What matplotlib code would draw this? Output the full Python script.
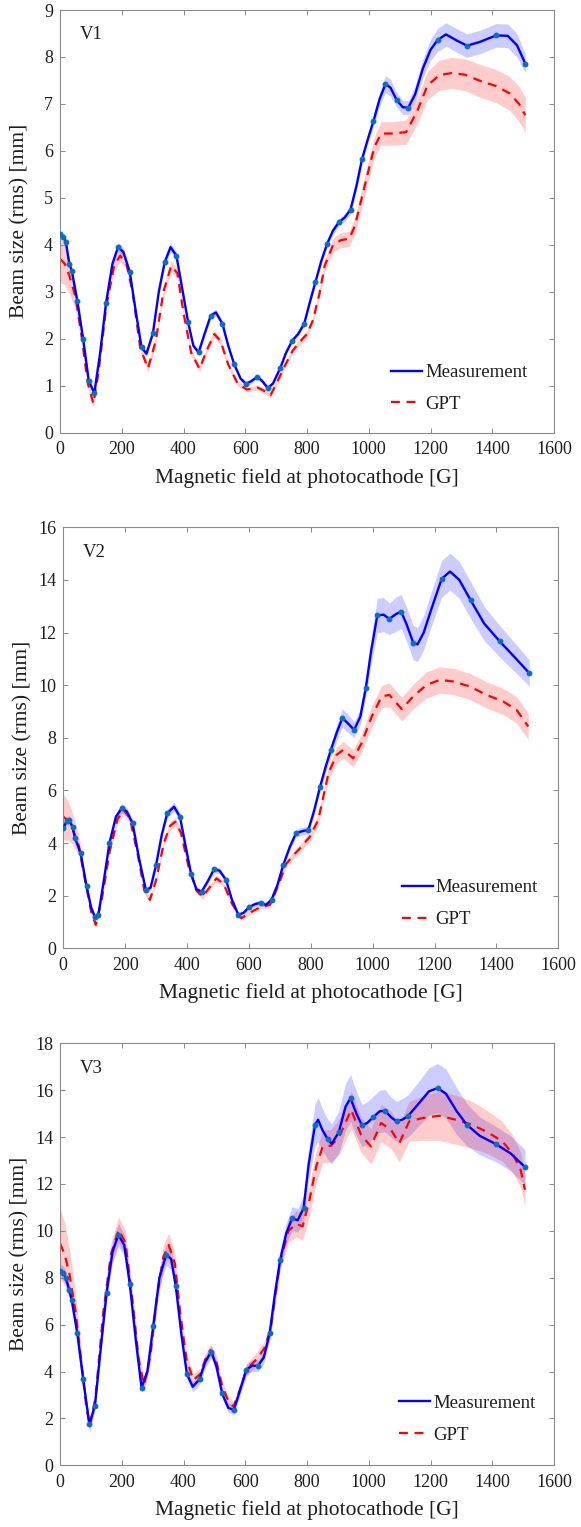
import numpy as np
import matplotlib
matplotlib.use("Agg")
import matplotlib.pyplot as plt

plt.rcParams['font.family'] = ['Liberation Serif', 'DejaVu Serif']
plt.rcParams['mathtext.fontset'] = 'stix'

# ---------------- data ----------------
# V1 measurement markers
v1_mx = [0, 11, 19, 30, 38, 56, 75, 93, 111, 149, 188, 226, 264, 301, 339, 377, 415, 449, 488, 526,
         564, 603, 639, 673, 713, 752, 791, 827, 865, 903, 941, 978, 1015, 1054, 1090, 1128, 1223, 1318, 1413, 1507]
v1_my = [4.24, 4.17, 4.06, 3.60, 3.45, 2.81, 2.00, 1.11, 0.84, 2.76, 3.95, 3.42, 1.82, 2.12, 3.63, 3.77, 2.35, 1.71, 2.49, 2.32,
         1.46, 1.04, 1.19, 0.95, 1.37, 1.96, 2.32, 3.20, 4.02, 4.48, 4.75, 5.82, 6.63, 7.42, 7.09, 6.92, 8.36, 8.24, 8.46, 7.86]
# V1 measurement curve (line) and band half-width
v1_lx = [0, 11, 19, 30, 38, 56, 75, 93, 111, 130, 149, 170, 188, 205, 226, 245, 264, 280, 301, 320, 339, 358, 377, 395,
         415, 432, 449, 468, 488, 505, 526, 545, 564, 585, 603, 620, 639, 655, 673, 690, 713, 732, 752, 771, 791, 808,
         827, 846, 865, 884, 903, 922, 941, 960, 978, 997, 1015, 1035, 1054, 1070, 1090, 1110, 1128, 1150, 1175, 1200,
         1223, 1250, 1285, 1318, 1360, 1413, 1450, 1480, 1507]
v1_ly = [4.24, 4.17, 4.06, 3.60, 3.45, 2.81, 2.00, 1.11, 0.84, 1.70, 2.76, 3.60, 3.95, 3.85, 3.42, 2.60, 1.82, 1.68, 2.12, 3.00, 3.63, 3.95, 3.77, 3.10,
         2.35, 1.85, 1.71, 2.10, 2.49, 2.56, 2.32, 1.85, 1.46, 1.15, 1.04, 1.10, 1.19, 1.10, 0.95, 1.05, 1.37, 1.70, 1.96, 2.10, 2.32, 2.75,
         3.20, 3.65, 4.02, 4.30, 4.48, 4.58, 4.75, 5.25, 5.82, 6.25, 6.63, 7.10, 7.42, 7.35, 7.09, 6.93, 6.92, 7.20, 7.75, 8.15,
         8.36, 8.48, 8.35, 8.24, 8.32, 8.46, 8.45, 8.25, 7.86]
v1_le = [0.08, 0.08, 0.08, 0.08, 0.08, 0.07, 0.06, 0.06, 0.06, 0.06, 0.07, 0.08, 0.10, 0.10, 0.08, 0.07, 0.06, 0.06, 0.06, 0.07, 0.08, 0.10, 0.08, 0.07,
         0.06, 0.06, 0.06, 0.06, 0.07, 0.07, 0.06, 0.06, 0.05, 0.05, 0.05, 0.05, 0.05, 0.05, 0.05, 0.05, 0.05, 0.05, 0.05, 0.05, 0.06, 0.06,
         0.07, 0.07, 0.08, 0.08, 0.08, 0.08, 0.09, 0.10, 0.10, 0.10, 0.12, 0.15, 0.18, 0.18, 0.16, 0.15, 0.15, 0.18, 0.20, 0.22,
         0.25, 0.25, 0.25, 0.25, 0.25, 0.25, 0.25, 0.25, 0.20]
# V1 GPT simulation and band half-width
v1_gx = [0, 15, 30, 50, 70, 90, 108, 125, 150, 175, 195, 215, 235, 260, 285, 310, 335, 360, 380, 400, 425, 452, 475, 500,
         520, 545, 575, 605, 640, 665, 682, 705, 730, 754, 776, 800, 819, 840, 857, 884, 910, 937, 955, 986, 1018, 1040,
         1078, 1121, 1158, 1190, 1228, 1270, 1313, 1357, 1412, 1455, 1487, 1507]
v1_gy = [3.70, 3.60, 3.35, 2.90, 2.05, 1.05, 0.62, 1.30, 2.70, 3.55, 3.77, 3.60, 3.00, 1.80, 1.37, 1.95, 3.00, 3.55, 3.40, 2.55, 1.70, 1.36, 1.75, 2.10,
         1.95, 1.45, 1.05, 0.92, 0.96, 0.88, 0.80, 1.10, 1.45, 1.75, 1.93, 2.10, 2.39, 2.95, 3.55, 3.99, 4.10, 4.13, 4.40, 5.23, 6.08, 6.37,
         6.37, 6.40, 6.86, 7.39, 7.61, 7.66, 7.62, 7.50, 7.38, 7.23, 7.00, 6.76]
v1_ge = [0.50, 0.45, 0.38, 0.28, 0.15, 0.10, 0.08, 0.08, 0.10, 0.12, 0.13, 0.12, 0.10, 0.08, 0.08, 0.08, 0.10, 0.12, 0.10, 0.08, 0.07, 0.07, 0.07, 0.08,
         0.07, 0.06, 0.05, 0.05, 0.05, 0.05, 0.05, 0.06, 0.06, 0.06, 0.07, 0.08, 0.08, 0.10, 0.12, 0.15, 0.16, 0.16, 0.17, 0.20, 0.22, 0.25,
         0.25, 0.26, 0.28, 0.30, 0.32, 0.33, 0.34, 0.35, 0.35, 0.36, 0.37, 0.37]

# V2 measurement markers
v2_mx = [0, 11, 19, 30, 38, 56, 75, 102, 113, 149, 189, 224, 267, 300, 336, 377, 413, 447, 487, 526, 566, 600, 638, 673,
         711, 752, 792, 830, 865, 902, 940, 978, 1015, 1054, 1092, 1131, 1223, 1317, 1411, 1506]
v2_my = [4.56, 4.85, 4.88, 4.60, 4.18, 3.61, 2.37, 1.20, 1.25, 3.99, 5.32, 4.75, 2.22, 3.17, 5.13, 5.00, 2.83, 2.15, 3.00, 2.60, 1.27, 1.56, 1.73, 1.85,
         3.17, 4.37, 4.50, 6.14, 7.54, 8.75, 8.30, 9.91, 12.65, 12.52, 12.80, 11.62, 14.04, 13.22, 11.66, 10.46]
v2_lx = [0, 11, 19, 30, 38, 56, 75, 90, 102, 113, 130, 149, 170, 189, 205, 224, 245, 267, 282, 300, 318, 336, 358, 377, 395,
         413, 430, 447, 467, 487, 505, 526, 545, 566, 583, 600, 620, 638, 655, 673, 692, 711, 732, 752, 772, 792, 810,
         830, 848, 865, 884, 902, 920, 940, 960, 978, 995, 1015, 1035, 1054, 1075, 1092, 1110, 1131, 1145, 1165, 1190,
         1223, 1250, 1280, 1317, 1360, 1411, 1460, 1506]
v2_ly = [4.56, 4.85, 4.88, 4.60, 4.18, 3.61, 2.37, 1.55, 1.20, 1.25, 2.50, 3.99, 5.00, 5.32, 5.20, 4.75, 3.40, 2.22, 2.30, 3.17, 4.30, 5.13, 5.38, 5.00, 3.90,
         2.83, 2.25, 2.15, 2.55, 3.00, 2.95, 2.60, 1.85, 1.27, 1.35, 1.56, 1.68, 1.73, 1.65, 1.85, 2.40, 3.17, 3.85, 4.37, 4.45, 4.50, 5.20,
         6.14, 6.90, 7.54, 8.20, 8.75, 8.55, 8.30, 8.80, 9.91, 11.30, 12.65, 12.68, 12.52, 12.70, 12.80, 12.30, 11.62, 11.55, 12.00, 12.90,
         14.04, 14.32, 14.00, 13.22, 12.35, 11.66, 11.05, 10.46]
v2_le = [0.15, 0.15, 0.15, 0.14, 0.13, 0.12, 0.10, 0.10, 0.10, 0.10, 0.10, 0.12, 0.15, 0.18, 0.16, 0.14, 0.12, 0.10, 0.10, 0.12, 0.14, 0.16, 0.18, 0.16, 0.14,
         0.12, 0.10, 0.10, 0.10, 0.12, 0.12, 0.10, 0.10, 0.10, 0.10, 0.10, 0.10, 0.10, 0.10, 0.10, 0.12, 0.12, 0.14, 0.15, 0.15, 0.16, 0.17,
         0.20, 0.22, 0.25, 0.30, 0.35, 0.35, 0.30, 0.30, 0.35, 0.50, 0.65, 0.65, 0.60, 0.65, 0.65, 0.65, 0.65, 0.65, 0.65, 0.65,
         0.70, 0.70, 0.70, 0.70, 0.65, 0.60, 0.55, 0.50]
v2_gx = [0, 15, 30, 50, 70, 90, 105, 125, 150, 175, 195, 215, 240, 262, 280, 300, 325, 345, 362, 380, 405, 430, 450, 472,
         495, 518, 545, 575, 610, 640, 668, 695, 720, 745, 765, 797, 824, 857, 883, 905, 937, 964, 997, 1029, 1054,
         1094, 1131, 1174, 1217, 1261, 1314, 1368, 1422, 1465, 1503]
v2_gy = [5.00, 4.85, 4.55, 3.90, 2.60, 1.40, 0.89, 1.90, 3.70, 4.90, 5.26, 4.95, 3.60, 2.20, 1.84, 2.60, 4.00, 4.65, 4.81, 4.40, 3.10, 2.20, 1.96, 2.30,
         2.66, 2.45, 1.70, 1.14, 1.40, 1.58, 1.65, 2.40, 3.20, 3.55, 3.80, 4.24, 4.88, 6.65, 7.35, 7.54, 7.22, 7.79, 8.81, 9.57, 9.63,
         9.09, 9.57, 10.01, 10.20, 10.14, 9.95, 9.63, 9.38, 9.06, 8.43]
v2_ge = [0.85, 0.75, 0.60, 0.40, 0.25, 0.15, 0.12, 0.12, 0.14, 0.16, 0.18, 0.16, 0.13, 0.12, 0.10, 0.12, 0.14, 0.16, 0.17, 0.15, 0.13, 0.10, 0.10, 0.10,
         0.11, 0.10, 0.09, 0.08, 0.08, 0.08, 0.09, 0.10, 0.12, 0.14, 0.15, 0.17, 0.20, 0.25, 0.30, 0.32, 0.33, 0.35, 0.40, 0.42, 0.45,
         0.45, 0.47, 0.50, 0.50, 0.50, 0.50, 0.50, 0.50, 0.50, 0.50]

# V3 measurement markers
v3_mx = [0, 11, 19, 30, 38, 56, 75, 95, 113, 151, 189, 226, 264, 302, 344, 375, 411, 452, 490, 525, 563, 603, 641, 679,
         713, 752, 789, 826, 867, 903, 941, 978, 1015, 1053, 1090, 1128, 1223, 1318, 1412, 1506]
v3_my = [8.29, 8.19, 7.98, 7.48, 7.06, 5.63, 3.68, 1.76, 2.53, 7.37, 9.83, 7.74, 3.31, 5.95, 8.98, 7.65, 3.90, 3.67, 4.85, 3.07, 2.36, 4.07, 4.24, 5.63,
         8.76, 10.54, 10.97, 14.52, 13.91, 14.21, 15.66, 14.50, 14.85, 15.12, 14.67, 14.91, 16.09, 14.52, 13.70, 12.72]
v3_lx = [0, 11, 19, 30, 38, 56, 75, 95, 113, 132, 151, 170, 189, 208, 226, 245, 264, 283, 302, 322, 344, 360, 375, 393,
         411, 430, 452, 470, 490, 507, 525, 545, 563, 583, 603, 622, 641, 660, 679, 697, 713, 733, 752, 770, 789, 805,
         826, 836, 850, 867, 880, 903, 925, 941, 960, 978, 995, 1015, 1035, 1053, 1072, 1090, 1110, 1128, 1160, 1195,
         1223, 1250, 1285, 1318, 1360, 1412, 1460, 1506]
v3_ly = [8.29, 8.19, 7.98, 7.48, 7.06, 5.63, 3.68, 1.76, 2.53, 5.00, 7.37, 9.10, 9.83, 9.40, 7.74, 5.40, 3.31, 4.00, 5.95, 8.00, 8.98, 8.80, 7.65, 5.60,
         3.90, 3.35, 3.67, 4.40, 4.85, 4.20, 3.07, 2.45, 2.36, 3.20, 4.07, 4.25, 4.24, 4.60, 5.63, 7.40, 8.76, 9.90, 10.54, 10.45, 10.97, 12.80,
         14.52, 14.74, 14.30, 13.91, 13.71, 14.21, 15.30, 15.66, 15.00, 14.50, 14.60, 14.85, 15.10, 15.12, 14.85, 14.67, 14.75, 14.91, 15.40, 15.95,
         16.09, 15.85, 15.10, 14.52, 14.05, 13.70, 13.30, 12.72]
v3_le = [0.30, 0.30, 0.30, 0.30, 0.30, 0.28, 0.25, 0.20, 0.22, 0.30, 0.35, 0.45, 0.50, 0.45, 0.40, 0.30, 0.20, 0.25, 0.30, 0.40, 0.45, 0.45, 0.40, 0.30,
         0.25, 0.22, 0.22, 0.25, 0.25, 0.25, 0.20, 0.20, 0.20, 0.22, 0.25, 0.25, 0.25, 0.25, 0.30, 0.35, 0.40, 0.45, 0.50, 0.50, 0.55, 0.70,
         0.90, 0.95, 0.90, 0.85, 0.85, 0.90, 1.00, 1.00, 0.95, 0.90, 0.90, 0.90, 0.90, 0.90, 0.85, 0.85, 0.90, 0.90, 0.95, 1.00,
         1.05, 1.05, 1.00, 0.90, 0.80, 0.75, 0.75, 0.75]
v3_gx = [0, 15, 30, 50, 70, 85, 97, 115, 140, 165, 190, 212, 235, 255, 272, 292, 315, 335, 352, 372, 390, 410, 432, 455,
         470, 487, 505, 525, 545, 562, 582, 605, 640, 662, 682, 713, 740, 765, 786, 808, 830, 851, 878, 905, 943, 975,
         1007, 1040, 1072, 1099, 1131, 1174, 1228, 1282, 1336, 1390, 1433, 1465, 1492, 1506]
v3_gy = [9.47, 9.00, 8.20, 6.60, 4.30, 2.50, 1.68, 2.90, 6.50, 9.00, 10.04, 9.50, 7.00, 4.50, 3.43, 4.60, 7.30, 8.90, 9.40, 8.60, 6.40, 4.50, 3.64, 3.90,
         4.50, 4.92, 4.50, 3.40, 2.75, 2.50, 3.20, 4.10, 4.57, 5.00, 5.80, 8.70, 10.00, 10.30, 10.19, 11.32, 12.75, 13.60, 13.63, 14.03, 15.16, 14.10,
         13.60, 14.60, 14.31, 13.74, 14.67, 14.81, 14.91, 14.74, 14.52, 14.17, 13.81, 13.31, 12.60, 11.75]
v3_ge = [1.50, 1.35, 1.10, 0.80, 0.50, 0.35, 0.30, 0.35, 0.45, 0.50, 0.55, 0.50, 0.45, 0.35, 0.30, 0.35, 0.45, 0.50, 0.50, 0.50, 0.40, 0.30, 0.25, 0.25,
         0.25, 0.25, 0.25, 0.20, 0.20, 0.20, 0.20, 0.25, 0.30, 0.30, 0.35, 0.40, 0.50, 0.55, 0.60, 0.65, 0.70, 0.70, 0.70, 0.75, 0.80, 0.75,
         0.75, 0.80, 0.80, 0.80, 0.85, 0.95, 1.05, 1.05, 1.00, 0.90, 0.85, 0.80, 0.75, 0.70]

panel_names = ['V1', 'V2', 'V3']
y_limits = [9, 16, 18]
y_steps = [1, 2, 2]
x_ticks = [0, 200, 400, 600, 800, 1000, 1200, 1400, 1600]
xlabel_text = 'Magnetic field at photocathode [G]'
ylabel_text = 'Beam size (rms) [mm]'
legend_labels = ['Measurement', 'GPT']

panels = [
    (v1_mx, v1_my, v1_lx, v1_ly, v1_le, v1_gx, v1_gy, v1_ge),
    (v2_mx, v2_my, v2_lx, v2_ly, v2_le, v2_gx, v2_gy, v2_ge),
    (v3_mx, v3_my, v3_lx, v3_ly, v3_le, v3_gx, v3_gy, v3_ge),
]

# ---------------- layout ----------------
W, H = 581, 1527
fig = plt.figure(figsize=(W / 100, H / 100), dpi=100)
axes_px = [(60, 10, 554, 432.7), (63.3, 527.3, 558.3, 948.3), (60, 1043.3, 554, 1465.3)]
legend_anchor = [(0.671, 0.0696), (0.684, 0.071), (0.687, 0.074)]

spine_col = '#8a8a8a'
text_col = '#1e1e1e'
blue = '#0000FF'
red = '#FF0000'
mk_col = '#0a6fc2'

for i, (mx, my, lx, ly, le, gx, gy, ge) in enumerate(panels):
    l, t, r, b = axes_px[i]
    ax = fig.add_axes([l / W, 1 - b / H, (r - l) / W, (b - t) / H])
    lx = np.array(lx, float); ly = np.array(ly, float); le = np.array(le, float)
    gx = np.array(gx, float); gy = np.array(gy, float); ge = np.array(ge, float)

    ax.fill_between(lx, ly - le, ly + le, color=blue, alpha=0.2, lw=0, zorder=1)
    ax.fill_between(gx, gy - ge, gy + ge, color=red, alpha=0.2, lw=0, zorder=1)
    hl_meas, = ax.plot(lx, ly, color=blue, lw=1.7, zorder=3, solid_joinstyle='round')
    ax.plot(mx, my, ls='none', marker='o', ms=3.2, mfc=mk_col, mec=mk_col, zorder=4)
    hl_gpt, = ax.plot(gx, gy, color=red, lw=1.6, ls=(0, (4, 3)), zorder=2)

    ax.set_xlim(0, 1600)
    ax.set_ylim(0, y_limits[i])
    ax.set_xticks(x_ticks)
    ax.set_yticks(np.arange(0, y_limits[i] + 0.1, y_steps[i]))
    ax.tick_params(direction='in', length=3.5, width=0.7, color=spine_col, top=True, right=True,
                   labelsize=13, labelcolor=text_col)
    ax.tick_params(axis='x', pad=6)
    ax.tick_params(axis='y', pad=5)
    for s in ax.spines.values():
        s.set_color(spine_col)
        s.set_linewidth(0.8)

    ax.set_xlabel(xlabel_text, fontsize=15.5, color=text_col)
    ax.xaxis.set_label_coords(0.5, -0.083)
    ax.set_ylabel(ylabel_text, fontsize=15.5, color=text_col, va='center')
    ax.yaxis.set_label_coords(-0.081, 0.5)

    ax.text(0.040, 0.941, panel_names[i], transform=ax.transAxes, fontsize=13.5,
            color=text_col, ha='left', va='center')

    lxa, y2 = legend_anchor[i]
    leg = ax.legend([hl_meas, hl_gpt], legend_labels, loc='lower left',
                    bbox_to_anchor=(lxa, y2 - 0.023), frameon=False, fontsize=13.5,
                    handlelength=1.65, handletextpad=0.15, labelspacing=0.78,
                    borderpad=0, borderaxespad=0)
    for txt in leg.get_texts():
        txt.set_color(text_col)

fig.savefig('out.png', dpi=100)
